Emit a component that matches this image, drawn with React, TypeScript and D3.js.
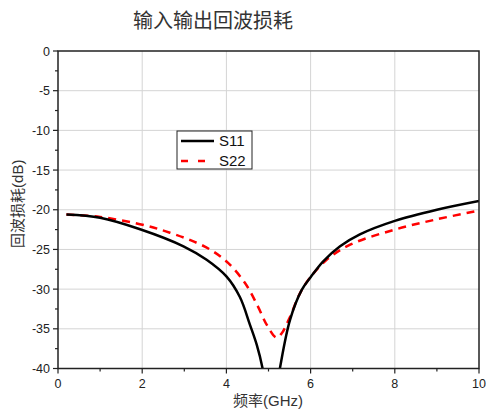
import React from 'react';
import * as d3 from 'd3';

// frequency (GHz) / return loss (dB)
const s11Freq = [0.2, 1, 1.95, 2.98, 3.53, 4.0, 4.32, 4.56, 4.72, 4.86, 5.06, 5.27, 5.51, 5.79, 6.0, 6.3, 6.7, 7.17, 8.0, 9.0, 10];
const s11Loss = [-20.6, -21.0, -22.45, -24.6, -26.3, -28.4, -31.0, -34.5, -37.0, -40, -47, -40, -33.9, -30.1, -28.5, -26.5, -24.6, -23.1, -21.4, -20.0, -18.9];

const s22Freq = [0.2, 1, 2.1, 2.66, 3.13, 3.61, 4.04, 4.45, 4.75, 4.96, 5.19, 5.31, 5.51, 5.75, 5.98, 6.38, 6.94, 8.0, 9.0, 10];
const s22Loss = [-20.6, -20.9, -22.0, -22.9, -23.8, -25.0, -26.7, -29.3, -32.2, -34.5, -36.1, -35.6, -33.5, -30.5, -28.6, -26.3, -24.4, -22.5, -21.2, -20.1];

const xTicks = [0, 2, 4, 6, 8, 10];
const xMinor = [1, 3, 5, 7, 9];
const yTicks = [0, -5, -10, -15, -20, -25, -30, -35, -40];
const yMinor = [-2.5, -7.5, -12.5, -17.5, -22.5, -27.5, -32.5, -37.5];

const W = 486;
const H = 410;
const left = 58;
const right = 479;
const top = 51;
const bottom = 368.5;
const font = "Arial, 'Liberation Sans', 'Noto Sans CJK SC', sans-serif";

export default function App() {
  const x = d3.scaleLinear().domain([0, 10]).range([left, right]);
  const y = d3.scaleLinear().domain([-40, 0]).range([bottom, top]);

  const line = d3
    .line<[number, number]>()
    .x((d) => x(d[0]))
    .y((d) => y(d[1]))
    .curve(d3.curveCatmullRom.alpha(0.5));

  const s11 = s11Freq.map((f, i) => [f, s11Loss[i]] as [number, number]);
  const s22 = s22Freq.map((f, i) => [f, s22Loss[i]] as [number, number]);

  return (
    <svg
      width={W}
      height={H}
      style={{ position: 'absolute', left: 0, top: 0, background: '#fff' }}
      fontFamily={font}
    >
      <defs>
        <clipPath id="plot">
          <rect x={left} y={top} width={right - left} height={bottom - top} />
        </clipPath>
      </defs>

      <text x={213} y={28} textAnchor="middle" fontSize={20} fill="#333">
        输入输出回波损耗
      </text>

      {/* grid */}
      {xTicks.slice(1, -1).map((t) => (
        <line key={'gx' + t} x1={x(t)} x2={x(t)} y1={top} y2={bottom} stroke="#d4d4d4" strokeWidth={1} />
      ))}
      {yTicks.slice(1, -1).map((t) => (
        <line key={'gy' + t} x1={left} x2={right} y1={y(t)} y2={y(t)} stroke="#d4d4d4" strokeWidth={1} />
      ))}

      {/* curves */}
      <g clipPath="url(#plot)">
        <path d={line(s22) ?? ''} fill="none" stroke="#ff0000" strokeWidth={2.5} strokeDasharray="8,6" />
        <path d={line(s11) ?? ''} fill="none" stroke="#000" strokeWidth={2.5} />
      </g>

      {/* frame */}
      <rect x={left} y={top} width={right - left} height={bottom - top} fill="none" stroke="#222" strokeWidth={1.5} />

      {/* x axis ticks */}
      {xTicks.map((t) => (
        <g key={'xt' + t}>
          <line x1={x(t)} x2={x(t)} y1={bottom} y2={bottom + 5} stroke="#222" strokeWidth={1.2} />
          <text x={x(t)} y={bottom + 19} textAnchor="middle" fontSize={12.5} fill="#222">
            {t}
          </text>
        </g>
      ))}
      {xMinor.map((t) => (
        <line key={'xm' + t} x1={x(t)} x2={x(t)} y1={bottom} y2={bottom + 3} stroke="#222" strokeWidth={1.2} />
      ))}

      {/* y axis ticks */}
      {yTicks.map((t) => (
        <g key={'yt' + t}>
          <line x1={left - 5} x2={left} y1={y(t)} y2={y(t)} stroke="#222" strokeWidth={1.2} />
          <text x={left - 8} y={y(t) + 4.5} textAnchor="end" fontSize={12.5} fill="#222">
            {t}
          </text>
        </g>
      ))}
      {yMinor.map((t) => (
        <line key={'ym' + t} x1={left - 3} x2={left} y1={y(t)} y2={y(t)} stroke="#222" strokeWidth={1.2} />
      ))}

      {/* axis titles */}
      <text x={268} y={406} textAnchor="middle" fontSize={15} fill="#333">
        频率(GHz)
      </text>
      <text
        transform={`translate(23, ${(top + bottom) / 2 - 6}) rotate(-90)`}
        textAnchor="middle"
        fontSize={15}
        fill="#333"
      >
        回波损耗(dB)
      </text>

      {/* legend */}
      <g>
        <rect x={177} y={131} width={75} height={38} fill="#fff" stroke="#222" strokeWidth={1} />
        <line x1={181} x2={214} y1={141} y2={141} stroke="#000" strokeWidth={2.5} />
        <line x1={181} x2={214} y1={161} y2={161} stroke="#ff0000" strokeWidth={2.5} strokeDasharray="7,10" />
        <text x={219} y={146} fontSize={15} fill="#111">S11</text>
        <text x={219} y={166} fontSize={15} fill="#111">S22</text>
      </g>
    </svg>
  );
}
